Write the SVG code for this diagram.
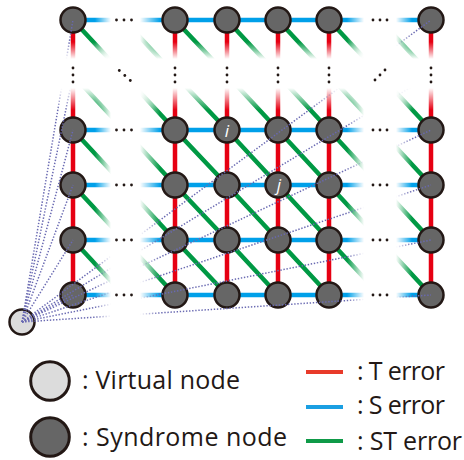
<svg xmlns="http://www.w3.org/2000/svg" width="464" height="460" viewBox="0 0 464 460">
  <style>
    .edge { fill: none; stroke-width: 4.5; stroke-linecap: butt; stroke-linejoin: round; }
    .t { stroke: #e60012; }
    .s { stroke: #00a0e9; }
    .st { stroke: #009944; }
    .syn { fill: #666666; stroke: #231815; stroke-width: 2.5; }
    .virt { fill: #dcdcdc; stroke: #231815; stroke-width: 2.5; }
    .vlink { fill: none; stroke: #6a6ab2; stroke-width: 1.5; stroke-dasharray: 1.4 1.7; }
    .dot { fill: #231815; }
    .lbl { font-family: "Open Sans", "Liberation Sans", sans-serif; font-size: 25px; fill: #231815; }
    .idx { font-family: "Open Sans", "Liberation Sans", sans-serif; font-size: 17px; font-style: italic; fill: #ffffff; text-anchor: middle; }
  </style>
  <defs>
    <!-- fade-out bands where the lattice is elided by ellipses -->
    <linearGradient id="gCol" gradientUnits="userSpaceOnUse" x1="0" y1="0" x2="464" y2="0">
      <stop offset="0.2047" stop-color="#fff"/>
      <stop offset="0.2392" stop-color="#000"/>
      <stop offset="0.3017" stop-color="#000"/>
      <stop offset="0.3448" stop-color="#fff"/>
      <stop offset="0.7478" stop-color="#fff"/>
      <stop offset="0.7845" stop-color="#000"/>
      <stop offset="0.8534" stop-color="#000"/>
      <stop offset="0.8879" stop-color="#fff"/>
    </linearGradient>
    <linearGradient id="gRow" gradientUnits="userSpaceOnUse" x1="0" y1="0" x2="0" y2="460">
      <stop offset="0.0913" stop-color="#fff"/>
      <stop offset="0.1283" stop-color="#000"/>
      <stop offset="0.1913" stop-color="#000"/>
      <stop offset="0.2391" stop-color="#fff"/>
    </linearGradient>
    <mask id="mCol" maskUnits="userSpaceOnUse" x="0" y="0" width="464" height="460">
      <rect x="0" y="0" width="464" height="460" fill="url(#gCol)"/>
    </mask>
    <mask id="mRow" maskUnits="userSpaceOnUse" x="0" y="0" width="464" height="460">
      <rect x="0" y="0" width="464" height="460" fill="url(#gRow)"/>
    </mask>
  </defs>

  <!-- lattice edges -->
  <g id="connectors" mask="url(#mRow)">
    <g mask="url(#mCol)">
      <g id="t-edges" class="edge t">
        <line x1="73" y1="20" x2="73" y2="295"/>
        <line x1="175" y1="20" x2="175" y2="295"/>
        <line x1="227" y1="20" x2="227" y2="295"/>
        <line x1="278" y1="20" x2="278" y2="295"/>
        <line x1="329" y1="20" x2="329" y2="295"/>
        <line x1="431" y1="20" x2="431" y2="295"/>
      </g>
      <g id="s-edges" class="edge s">
        <line x1="73" y1="20" x2="431" y2="20"/>
        <line x1="73" y1="130" x2="431" y2="130"/>
        <line x1="73" y1="185" x2="431" y2="185"/>
        <line x1="73" y1="240" x2="431" y2="240"/>
        <line x1="73" y1="295" x2="431" y2="295"/>
      </g>
      <g id="st-edges" class="edge st">
        <polyline points="73,20 124,75 175,130 227,185 278,240 329,295"/>
        <polyline points="124,20 175,75 227,130 278,185 329,240 380,295"/>
        <polyline points="175,20 227,75 278,130 329,185 380,240 431,295"/>
        <polyline points="227,20 278,75 329,130 380,185 431,240"/>
        <polyline points="278,20 329,75 380,130 431,185"/>
        <polyline points="329,20 380,75 431,130"/>
        <polyline points="380,20 431,75"/>
        <polyline points="73,75 124,130 175,185 227,240 278,295"/>
        <polyline points="73,130 124,185 175,240 227,295"/>
        <polyline points="73,185 124,240 175,295"/>
        <polyline points="73,240 124,295"/>
      </g>
    </g>
  </g>

  <!-- syndrome nodes -->
  <g id="n-0-0"><circle class="syn" cx="73" cy="20" r="12.5"/></g>
  <g id="n-0-1"><circle class="syn" cx="175" cy="20" r="12.5"/></g>
  <g id="n-0-2"><circle class="syn" cx="227" cy="20" r="12.5"/></g>
  <g id="n-0-3"><circle class="syn" cx="278" cy="20" r="12.5"/></g>
  <g id="n-0-4"><circle class="syn" cx="329" cy="20" r="12.5"/></g>
  <g id="n-0-5"><circle class="syn" cx="431" cy="20" r="12.5"/></g>

  <g id="n-1-0"><circle class="syn" cx="73" cy="130" r="12.5"/></g>
  <g id="n-1-1"><circle class="syn" cx="175" cy="130" r="12.5"/></g>
  <g id="n-1-2"><circle class="syn" cx="227" cy="130" r="12.5"/><text class="idx" x="227" y="137">i</text></g>
  <g id="n-1-3"><circle class="syn" cx="278" cy="130" r="12.5"/></g>
  <g id="n-1-4"><circle class="syn" cx="329" cy="130" r="12.5"/></g>
  <g id="n-1-5"><circle class="syn" cx="431" cy="130" r="12.5"/></g>

  <g id="n-2-0"><circle class="syn" cx="73" cy="185" r="12.5"/></g>
  <g id="n-2-1"><circle class="syn" cx="175" cy="185" r="12.5"/></g>
  <g id="n-2-2"><circle class="syn" cx="227" cy="185" r="12.5"/></g>
  <g id="n-2-3"><circle class="syn" cx="278" cy="185" r="12.5"/><text class="idx" x="279" y="191">j</text></g>
  <g id="n-2-4"><circle class="syn" cx="329" cy="185" r="12.5"/></g>
  <g id="n-2-5"><circle class="syn" cx="431" cy="185" r="12.5"/></g>

  <g id="n-3-0"><circle class="syn" cx="73" cy="240" r="12.5"/></g>
  <g id="n-3-1"><circle class="syn" cx="175" cy="240" r="12.5"/></g>
  <g id="n-3-2"><circle class="syn" cx="227" cy="240" r="12.5"/></g>
  <g id="n-3-3"><circle class="syn" cx="278" cy="240" r="12.5"/></g>
  <g id="n-3-4"><circle class="syn" cx="329" cy="240" r="12.5"/></g>
  <g id="n-3-5"><circle class="syn" cx="431" cy="240" r="12.5"/></g>

  <g id="n-4-0"><circle class="syn" cx="73" cy="295" r="12.5"/></g>
  <g id="n-4-1"><circle class="syn" cx="175" cy="295" r="12.5"/></g>
  <g id="n-4-2"><circle class="syn" cx="227" cy="295" r="12.5"/></g>
  <g id="n-4-3"><circle class="syn" cx="278" cy="295" r="12.5"/></g>
  <g id="n-4-4"><circle class="syn" cx="329" cy="295" r="12.5"/></g>
  <g id="n-4-5"><circle class="syn" cx="431" cy="295" r="12.5"/></g>

  <!-- virtual boundary node -->
  <g id="virtual"><circle class="virt" cx="22" cy="322" r="12.5"/></g>

  <!-- boundary links from the virtual node -->
  <g id="virtual-links" mask="url(#mRow)">
    <g mask="url(#mCol)" class="vlink">
      <line x1="22" y1="322" x2="73" y2="20"/>
      <line x1="22" y1="322" x2="73" y2="75"/>
      <line x1="22" y1="322" x2="73" y2="130"/>
      <line x1="22" y1="322" x2="73" y2="185"/>
      <line x1="22" y1="322" x2="73" y2="240"/>
      <line x1="22" y1="322" x2="73" y2="295"/>
      <line x1="22" y1="322" x2="431" y2="20"/>
      <line x1="22" y1="322" x2="431" y2="75"/>
      <line x1="22" y1="322" x2="431" y2="130"/>
      <line x1="22" y1="322" x2="431" y2="185"/>
      <line x1="22" y1="322" x2="431" y2="240"/>
      <line x1="22" y1="322" x2="431" y2="295"/>
    </g>
  </g>

  <!-- ellipsis dots -->
  <g id="ellipses" class="dot">
    <circle cx="116.5" cy="20" r="1.4"/><circle cx="124" cy="20" r="1.4"/><circle cx="131.5" cy="20" r="1.4"/>
    <circle cx="116.5" cy="130" r="1.4"/><circle cx="124" cy="130" r="1.4"/><circle cx="131.5" cy="130" r="1.4"/>
    <circle cx="116.5" cy="185" r="1.4"/><circle cx="124" cy="185" r="1.4"/><circle cx="131.5" cy="185" r="1.4"/>
    <circle cx="116.5" cy="240" r="1.4"/><circle cx="124" cy="240" r="1.4"/><circle cx="131.5" cy="240" r="1.4"/>
    <circle cx="116.5" cy="295" r="1.4"/><circle cx="124" cy="295" r="1.4"/><circle cx="131.5" cy="295" r="1.4"/>

    <circle cx="373" cy="20" r="1.4"/><circle cx="380" cy="20" r="1.4"/><circle cx="387" cy="20" r="1.4"/>
    <circle cx="373" cy="130" r="1.4"/><circle cx="380" cy="130" r="1.4"/><circle cx="387" cy="130" r="1.4"/>
    <circle cx="373" cy="185" r="1.4"/><circle cx="380" cy="185" r="1.4"/><circle cx="387" cy="185" r="1.4"/>
    <circle cx="373" cy="240" r="1.4"/><circle cx="380" cy="240" r="1.4"/><circle cx="387" cy="240" r="1.4"/>
    <circle cx="373" cy="295" r="1.4"/><circle cx="380" cy="295" r="1.4"/><circle cx="387" cy="295" r="1.4"/>

    <circle cx="73" cy="68" r="1.4"/><circle cx="73" cy="75" r="1.4"/><circle cx="73" cy="82" r="1.4"/>
    <circle cx="175" cy="68" r="1.4"/><circle cx="175" cy="75" r="1.4"/><circle cx="175" cy="82" r="1.4"/>
    <circle cx="227" cy="68" r="1.4"/><circle cx="227" cy="75" r="1.4"/><circle cx="227" cy="82" r="1.4"/>
    <circle cx="278" cy="68" r="1.4"/><circle cx="278" cy="75" r="1.4"/><circle cx="278" cy="82" r="1.4"/>
    <circle cx="329" cy="68" r="1.4"/><circle cx="329" cy="75" r="1.4"/><circle cx="329" cy="82" r="1.4"/>
    <circle cx="431" cy="68" r="1.4"/><circle cx="431" cy="75" r="1.4"/><circle cx="431" cy="82" r="1.4"/>

    <circle cx="119.3" cy="70.5" r="1.4"/><circle cx="124.8" cy="75.5" r="1.4"/><circle cx="130.3" cy="80.5" r="1.4"/>
    <circle cx="375" cy="80" r="1.4"/><circle cx="380" cy="75" r="1.4"/><circle cx="385" cy="70" r="1.4"/>
  </g>

  <!-- legend -->
  <g id="legend">
    <circle cx="50" cy="381" r="19.3" fill="#dcdcdc" stroke="#231815" stroke-width="3"/>
    <text class="lbl" x="82" y="389" textLength="158" lengthAdjust="spacing">: Virtual node</text>
    <circle cx="50" cy="437" r="19.3" fill="#666666" stroke="#231815" stroke-width="3"/>
    <text class="lbl" x="82" y="446" textLength="205" lengthAdjust="spacing">: Syndrome node</text>

    <line x1="306" y1="372" x2="343" y2="372" stroke="#e83a2a" stroke-width="4"/>
    <text class="lbl" x="357" y="380" textLength="88" lengthAdjust="spacing">: T error</text>
    <line x1="306" y1="407" x2="343" y2="407" stroke="#1a9fe2" stroke-width="4"/>
    <text class="lbl" x="357" y="414" textLength="88" lengthAdjust="spacing">: S error</text>
    <line x1="306" y1="441" x2="343" y2="441" stroke="#0f9a48" stroke-width="4"/>
    <text class="lbl" x="357" y="450" textLength="105" lengthAdjust="spacing">: ST error</text>
  </g>
</svg>
